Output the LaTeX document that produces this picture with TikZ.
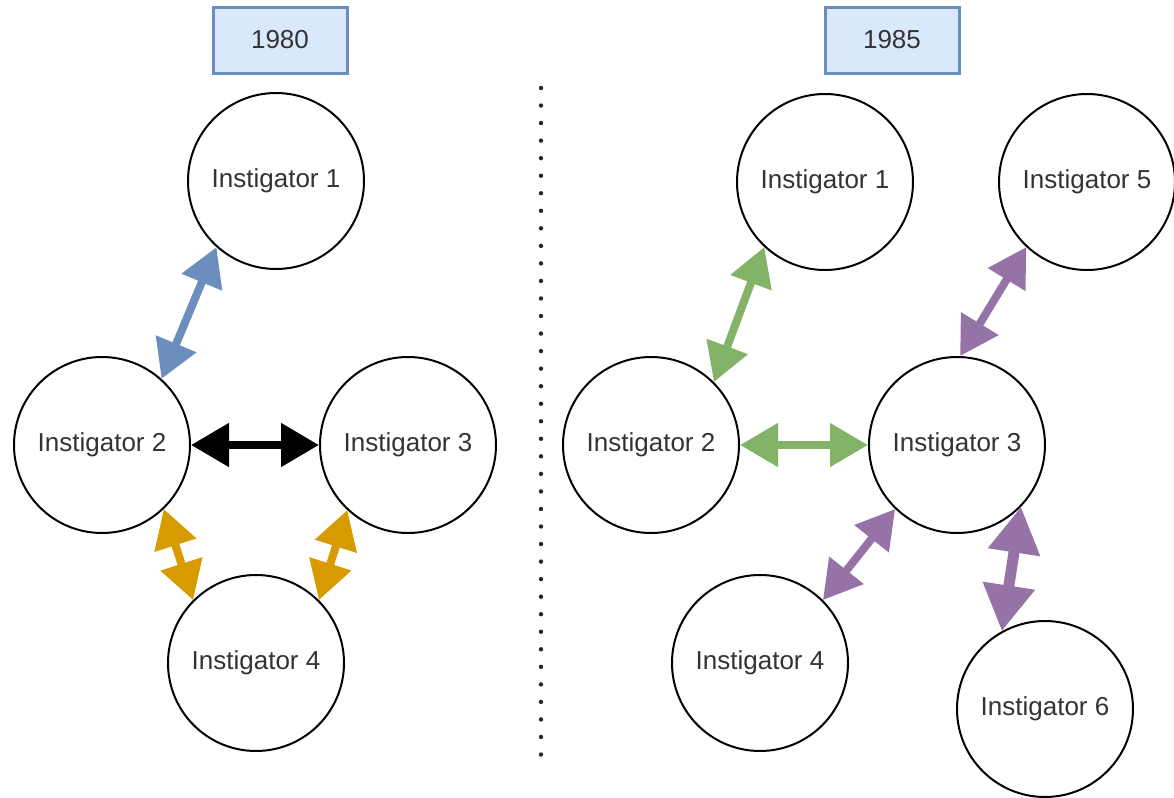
\documentclass[tikz,border=0pt]{standalone}
\usepackage{fontspec}
\setmainfont{Liberation Sans}
\usetikzlibrary{arrows.meta}
\definecolor{txt}{HTML}{333333}
\definecolor{yearborder}{HTML}{6C8EBF}
\definecolor{yearfill}{HTML}{DAE8FC}
\definecolor{cblue}{HTML}{6C8EBF}
\definecolor{corange}{HTML}{D79B00}
\definecolor{cgreen}{HTML}{82B366}
\definecolor{cpurple}{HTML}{9673A6}
\begin{document}
\begin{tikzpicture}[x=0.5pt,y=-0.5pt,
  inst/.style={circle,draw=black,line width=1pt,fill=white,minimum size=88pt,inner sep=0pt,text=txt,font=\fontsize{13pt}{15pt}\selectfont},
  yearbox/.style={draw=yearborder,fill=yearfill,line width=1.5pt,minimum width=67pt,minimum height=33pt,inner sep=0pt,text=txt,font=\fontsize{13pt}{15pt}\selectfont},
  link/.style={line width=4pt,{Triangle[length=19pt,width=21pt]}-{Triangle[length=19pt,width=21pt]}},
  biglink/.style={line width=5.5pt,{Triangle[length=23pt,width=25pt]}-{Triangle[length=23pt,width=25pt]}},
  sep/.style={line width=2.2pt,line cap=round,dash pattern=on 0pt off 8.77pt,black!85}
]
\useasboundingbox (0,0) rectangle (1174,798);

% year labels
\node[yearbox] (yearL) at (280,40) {1980};
\node[yearbox] (yearR) at (892,40) {1985};

% separator
\coordinate (dtop) at (541,88);
\coordinate (dbot) at (541,772);
\draw[sep] (dtop) -- (dbot);

% left: 1980
\node[inst] (L1) at (276,181) {Instigator 1};
\node[inst] (L2) at (102,445) {Instigator 2};
\node[inst] (L3) at (408,445) {Instigator 3};
\node[inst] (L4) at (256,663) {Instigator 4};

\draw[link,cblue] (L2.48) -- (L1.228);
\draw[link,black] (L2.east) -- (L3.west);
\draw[link,corange] (L2.-46) -- (L4.135);
\draw[link,corange] (L3.227) -- (L4.45);

% right: 1985
\node[inst] (R1) at (825,182) {Instigator 1};
\node[inst] (R5) at (1087,182) {Instigator 5};
\node[inst] (R2) at (651,445) {Instigator 2};
\node[inst] (R3) at (957,445) {Instigator 3};
\node[inst] (R4) at (760,663) {Instigator 4};
\node[inst] (R6) at (1045,709) {Instigator 6};

\draw[link,cgreen] (R2.45) -- (R1.227);
\draw[link,cgreen] (R2.east) -- (R3.west);
\draw[link,cpurple] (R3.88) -- (R5.227);
\draw[link,cpurple] (R3.226) -- (R4.45);
\draw[biglink,cpurple] (R3.-44) -- (R6.119);
\end{tikzpicture}
\end{document}
